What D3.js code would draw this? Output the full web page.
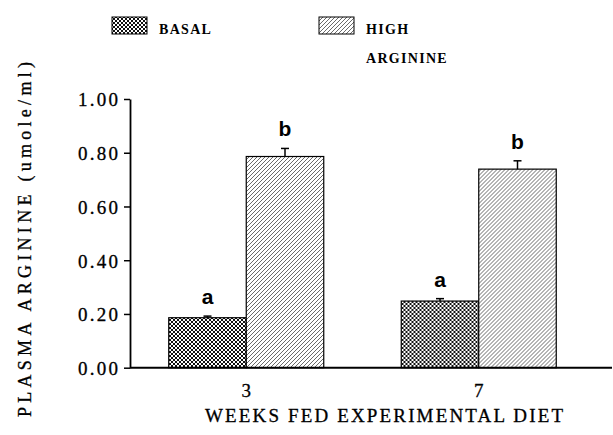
<!DOCTYPE html>
<html>
<head>
<script src="https://d3js.org/d3.v7.min.js"></script>
<style>
  body { margin: 0; background: #fff; }
</style>
</head>
<body>
<script>
// data
var weeks = ["3", "7"];
var series = ["BASAL", "HIGH ARGININE"];
var basal = [0.186, 0.248];
var basalErr = [0.006, 0.009];
var high = [0.786, 0.739];
var highErr = [0.030, 0.031];
var letters = [["a", "b"], ["a", "b"]];
var yTicks = [0, 0.2, 0.4, 0.6, 0.8, 1.0];

var width = 613, height = 435;
var serif = "Liberation Serif, Times New Roman, serif";
var svg = d3.select("body").append("svg")
    .attr("width", width)
    .attr("height", height);

var defs = svg.append("defs");
// cross hatch for basal
var p1 = defs.append("pattern").attr("id", "cross")
    .attr("patternUnits", "userSpaceOnUse").attr("width", 4).attr("height", 4);
p1.append("rect").attr("width", 4).attr("height", 4).attr("fill", "#fff");
p1.append("path").attr("d", "M0,0 L4,4 M4,0 L0,4")
    .attr("stroke", "#111").attr("stroke-width", 1);
// single diagonal for high arginine
var p2 = defs.append("pattern").attr("id", "diag")
    .attr("patternUnits", "userSpaceOnUse").attr("width", 4).attr("height", 4);
p2.append("rect").attr("width", 4).attr("height", 4).attr("fill", "#fff");
p2.append("path").attr("d", "M-1,5 L5,-1 M-1,1 L1,-1 M3,5 L5,3")
    .attr("stroke", "#444").attr("stroke-width", 0.8);
var fills = ["url(#cross)", "url(#diag)"];

var x = d3.scaleBand().domain(weeks).range([130, 595]).padding(0);
var xs = d3.scaleBand().domain(series).range([0, x.bandwidth()])
    .paddingInner(0).paddingOuter(0.5);
var y = d3.scaleLinear().domain([0, 1]).range([367.7, 99]);

var rows = weeks.map(function (w, i) {
  return [
    {w: w, s: series[0], v: basal[i], e: basalErr[i], l: letters[i][0], f: fills[0]},
    {w: w, s: series[1], v: high[i], e: highErr[i], l: letters[i][1], f: fills[1]}
  ];
});

var g = svg.selectAll("g.grp").data(rows).enter().append("g")
    .attr("class", "grp")
    .attr("transform", function (d, i) { return "translate(" + x(weeks[i]) + ",0)"; });

var bars = g.selectAll("g.bar").data(function (d) { return d; }).enter().append("g");

bars.append("rect")
    .attr("x", function (d) { return xs(d.s); })
    .attr("y", function (d) { return y(d.v); })
    .attr("width", xs.bandwidth())
    .attr("height", function (d) { return y(0) - y(d.v); })
    .attr("fill", function (d) { return d.f; })
    .attr("stroke", "#000").attr("stroke-width", 1.2);

// error bars
bars.append("line")
    .attr("x1", function (d) { return xs(d.s) + xs.bandwidth() / 2; })
    .attr("x2", function (d) { return xs(d.s) + xs.bandwidth() / 2; })
    .attr("y1", function (d) { return y(d.v); })
    .attr("y2", function (d) { return y(d.v + d.e); })
    .attr("stroke", "#000").attr("stroke-width", 1.5);
bars.append("line")
    .attr("x1", function (d) { return xs(d.s) + xs.bandwidth() / 2 - 4; })
    .attr("x2", function (d) { return xs(d.s) + xs.bandwidth() / 2 + 4; })
    .attr("y1", function (d) { return y(d.v + d.e); })
    .attr("y2", function (d) { return y(d.v + d.e); })
    .attr("stroke", "#000").attr("stroke-width", 1.5);

// significance letters
bars.append("text")
    .attr("x", function (d) { return xs(d.s) + xs.bandwidth() / 2; })
    .attr("y", function (d) { return y(d.v + d.e) - 12; })
    .attr("text-anchor", "middle")
    .attr("font-family", "Liberation Sans, Arial, sans-serif")
    .attr("font-weight", "bold")
    .attr("font-size", 21)
    .text(function (d) { return d.l; });

// y axis
var yAxis = d3.axisLeft(y).tickValues(yTicks).tickFormat(d3.format(".2f"))
    .tickSize(6).tickSizeOuter(0);
var ya = svg.append("g").attr("transform", "translate(130,0)").call(yAxis);
ya.select(".domain").attr("stroke-width", 1.8);
ya.selectAll(".tick line").attr("stroke-width", 1.5);
ya.selectAll(".tick text")
    .attr("font-family", serif)
    .attr("font-size", 19)
    .attr("fill", "#000")
    .attr("stroke", "#000").attr("stroke-width", 0.3)
    .attr("textLength", 40).attr("lengthAdjust", "spacing")
    .attr("x", -12).attr("dy", "0.36em");

// x baseline
svg.append("line")
    .attr("x1", 130).attr("x2", 612)
    .attr("y1", y(0)).attr("y2", y(0))
    .attr("stroke", "#000").attr("stroke-width", 2);

// x tick labels
svg.selectAll("text.xt").data(weeks).enter().append("text")
    .attr("class", "xt")
    .attr("x", function (d) { return x(d) + x.bandwidth() / 2; })
    .attr("y", 397)
    .attr("text-anchor", "middle")
    .attr("font-family", serif)
    .attr("font-size", 19)
    .attr("stroke", "#000").attr("stroke-width", 0.3)
    .text(function (d) { return d; });

// axis titles
svg.append("text")
    .attr("x", 205).attr("y", 422)
    .attr("font-family", serif)
    .attr("font-size", 19)
    .attr("stroke", "#000").attr("stroke-width", 0.3)
    .attr("textLength", 358).attr("lengthAdjust", "spacing")
    .text("WEEKS FED EXPERIMENTAL DIET");

svg.append("text")
    .attr("transform", "translate(31,417) rotate(-90)")
    .attr("font-family", serif)
    .attr("font-size", 18)
    .attr("stroke", "#000").attr("stroke-width", 0.3)
    .attr("textLength", 355).attr("lengthAdjust", "spacing")
    .text("PLASMA ARGININE (umole/ml)");

// legend
var legendX = [112, 319];
var lg = svg.selectAll("g.lg").data(series).enter().append("g")
    .attr("class", "lg")
    .attr("transform", function (d, i) { return "translate(" + legendX[i] + ",17)"; });
lg.append("rect")
    .attr("width", 35).attr("height", 17)
    .attr("fill", function (d, i) { return fills[i]; })
    .attr("stroke", "#000").attr("stroke-width", 1);
lg.append("text")
    .attr("x", 47).attr("y", 17)
    .attr("font-family", serif)
    .attr("font-weight", "bold")
    .attr("font-size", 14)
    .attr("letter-spacing", 1.3)
    .each(function (d) {
      var words = d.split(" ");
      d3.select(this).selectAll("tspan").data(words).enter().append("tspan")
        .attr("x", 47)
        .attr("dy", function (w, j) { return j ? 29 : 0; })
        .text(function (w) { return w; });
    });
</script>
</body>
</html>
